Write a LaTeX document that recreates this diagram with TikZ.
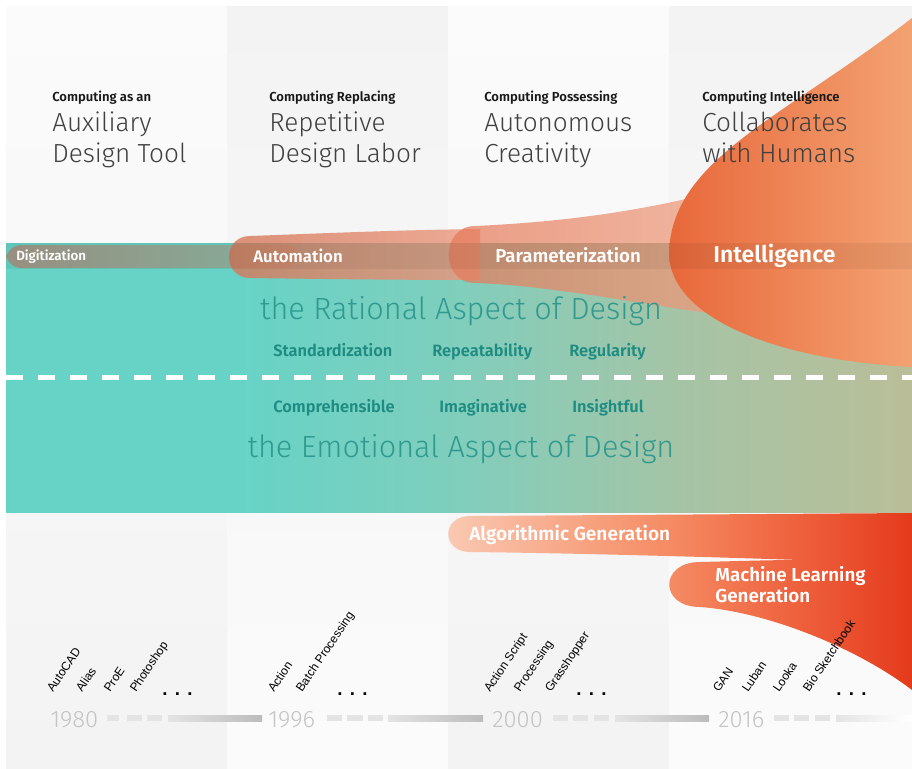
\documentclass[tikz,border=0pt]{standalone}
\usepackage{fontspec}
\setmainfont{Fira Sans}
\newfontfamily\lightfont{Fira Sans Light}
\newfontfamily\semifont{Fira Sans SemiBold}
\newfontfamily\toolfont{Liberation Sans}

\definecolor{colwhite}{RGB}{251,251,251}
\definecolor{colgray}{RGB}{243,243,243}
\definecolor{tealband}{RGB}{103,211,198}
\definecolor{tealmid}{RGB}{128,206,188}
\definecolor{sage}{RGB}{165,196,166}
\definecolor{khaki}{RGB}{186,190,152}
\definecolor{tealtext}{RGB}{48,154,144}
\definecolor{tealword}{RGB}{30,140,130}
\definecolor{digigray}{RGB}{162,153,137}
\definecolor{digiteal}{RGB}{140,186,165}
\definecolor{autoleft}{RGB}{212,118,88}
\definecolor{autoright}{RGB}{236,152,126}
\definecolor{paramleft}{RGB}{228,120,88}
\definecolor{paramright}{RGB}{240,162,132}
\definecolor{intleft}{RGB}{232,104,58}
\definecolor{intright}{RGB}{243,162,114}
\definecolor{peach}{RGB}{250,202,180}
\definecolor{coral}{RGB}{245,140,100}
\definecolor{flame}{RGB}{238,96,60}
\definecolor{fire}{RGB}{228,58,28}
\definecolor{yeargray}{RGB}{196,196,196}
\definecolor{bargray}{RGB}{228,228,228}
\definecolor{bardark}{RGB}{188,188,188}

\pgfdeclarehorizontalshading{bandshade}{100bp}{color(0bp)=(tealband); color(25bp)=(tealband); color(38bp)=(tealband); color(50bp)=(tealmid); color(62bp)=(sage); color(75bp)=(khaki); color(100bp)=(khaki)}
\pgfdeclarehorizontalshading{fireshade}{100bp}{color(0bp)=(peach); color(25bp)=(peach); color(49bp)=(coral); color(63bp)=(flame); color(75bp)=(fire); color(100bp)=(fire)}

\begin{document}
\begin{tikzpicture}[
    x=0.75pt, y=-0.75pt,
    lead/.style={font=\semifont\fontsize{9.8}{11}\selectfont, text=black!90, anchor=base west, inner sep=0pt},
    title/.style={font=\lightfont\fontsize{19.6}{24}\selectfont, text=black!75, anchor=base west, inner sep=0pt},
    aspect/.style={font=\lightfont\fontsize{23}{28}\selectfont, text=tealtext, anchor=base, inner sep=0pt},
    quality/.style={font=\semifont\fontsize{12.3}{14}\selectfont, text=tealword, anchor=base west, inner sep=0pt},
    stage/.style={font=\semifont\fontsize{#1}{#1}\selectfont, text=white, anchor=base west, inner sep=0pt},
    tool/.style={font=\toolfont\fontsize{9}{10}\selectfont, rotate=56, anchor=base west, inner sep=0pt},
    more/.style={font=\toolfont\bfseries\fontsize{14}{16}\selectfont, anchor=base west, inner sep=0pt},
    year/.style={font=\lightfont\fontsize{17.8}{20}\selectfont, text=yeargray, anchor=base west, inner sep=0pt}
]
\useasboundingbox (0,0) rectangle (912,768);
\fill[white] (0,0) rectangle (912,768);

% Era columns
\foreach \a/\b/\ctop/\cbot in {6/227/colwhite/colgray, 227/448/colgray/colwhite, 448/669/colwhite/colgray, 669/912/colgray/colwhite} {
    \shade[top color=\ctop, bottom color=\cbot] (\a,6) rectangle (\b,768);
}

% Design band
\shade[shading=bandshade] (6,243) rectangle (912,512);

% Stages of computing
\shade[left color=digigray, right color=digiteal, rounded corners=11.5] (6,245) rectangle (300,268);
\shade[left color=autoleft, right color=autoright, opacity=0.8]
    (250,236) .. controls (330,233) and (400,230) .. (480,229) -- (480,280)
    .. controls (400,280) and (320,279) .. (250,278)
    .. controls (222,278) and (222,236) .. (250,236) -- cycle;
\shade[left color=paramleft, right color=paramright, opacity=0.72]
    (475,226) .. controls (560,222) and (650,212) .. (760,180) -- (760,315) -- (700,312)
    .. controls (620,300) and (540,285) .. (475,283)
    .. controls (440,283) and (440,226) .. (475,226) -- cycle;
\shade[left color=intleft, right color=intright]
    (912,18) .. controls (780,120) and (670,160) .. (669,255)
    .. controls (672,320) and (780,360) .. (912,367) -- cycle;
\fill[black, opacity=0.06] (6,243) rectangle (912,269);

% Generation
\shade[shading=fireshade]
    (470,516) -- (912,513) -- (912,690)
    .. controls (860,650) and (770,612) .. (700,607)
    .. controls (659,607) and (659,562) .. (700,562)
    .. controls (740,561) and (770,560) .. (800,560)
    .. controls (680,556) and (560,553) .. (470,552)
    .. controls (441,552) and (441,516) .. (470,516) -- cycle;

% Rational / emotional divider
\draw[white, line width=3.75pt, dash pattern=on 12.75pt off 11.25pt] (6,377) -- (912,377);

% Era headings
\foreach \hx/\hsub/\hone/\htwo [count=\n] in {52/Computing as an/Auxiliary/Design Tool, 269/Computing Replacing/Repetitive/Design Labor, 484/Computing Possessing/Autonomous/Creativity, 702/Computing Intelligence/Collaborates/with Humans} {
    \node[lead] (lead-\n) at (\hx,101) {\hsub};
    \node[title] (title-\n-a) at (\hx,131) {\hone};
    \node[title] (title-\n-b) at (\hx,162) {\htwo};
}

% Stage labels
\node[stage=10] (digitization) at (16,260) {Digitization};
\node[stage=12.6] (automation) at (253,262) {Automation};
\node[stage=14] (parameterization) at (495,262) {Parameterization};
\node[stage=17.2] (intelligence) at (713,262) {Intelligence};
\node[stage=14.3] (algorithmic) at (469,540) {Algorithmic Generation};
\node[stage=14.1] (learning-a) at (715,581) {Machine Learning};
\node[stage=14.1] (learning-b) at (715,602) {Generation};

% Aspects of design
\node[aspect] (rational) at (461,319) {the Rational Aspect of Design};
\node[aspect] (emotional) at (461,457) {the Emotional Aspect of Design};
\foreach \x/\word [count=\n] in {273/Standardization, 432/Repeatability, 569/Regularity} {
    \node[quality] (rational-\n) at (\x,356) {\word};
}
\foreach \x/\word [count=\n] in {273/Comprehensible, 439/Imaginative, 572/Insightful} {
    \node[quality] (emotional-\n) at (\x,412) {\word};
}

% Timeline
\foreach \a/\b in {107/119, 127/142, 147/162, 327/342, 347/363, 368/383, 553/568, 573/588, 594/609, 774/789, 794/809, 815/830} {
    \fill[bargray] (\a,715) rectangle (\b,721);
}
\foreach \a/\b in {168/262, 388/483, 615/709} {
    \shade[left color=bargray, right color=bardark] (\a,715) rectangle (\b,721);
}
\shade[left color=bargray, right color=white] (836,715) rectangle (912,721);
\foreach \x/\yr in {50/1980, 268/1996, 492/2000, 718/2016} {
    \node[year] (year-\yr) at (\x,727) {\yr};
}

% Tools
\foreach \x/\tool in {53/AutoCAD, 82/Alias, 110/ProE, 136/Photoshop, 274/Action, 302/Batch Processing, 490/Action Script, 520/Processing, 551/Grasshopper, 719/GAN, 748/Luban, 779/Looka, 809/Bio Sketchbook} {
    \node[tool] (tool-\x) at (\x,693) {\tool};
}
\foreach \x [count=\n] in {162, 337, 576, 836} {
    \node[more] (more-\n) at (\x,695) {.\hspace{5.5pt}.\hspace{5.5pt}.};
}

\end{tikzpicture}
\end{document}
